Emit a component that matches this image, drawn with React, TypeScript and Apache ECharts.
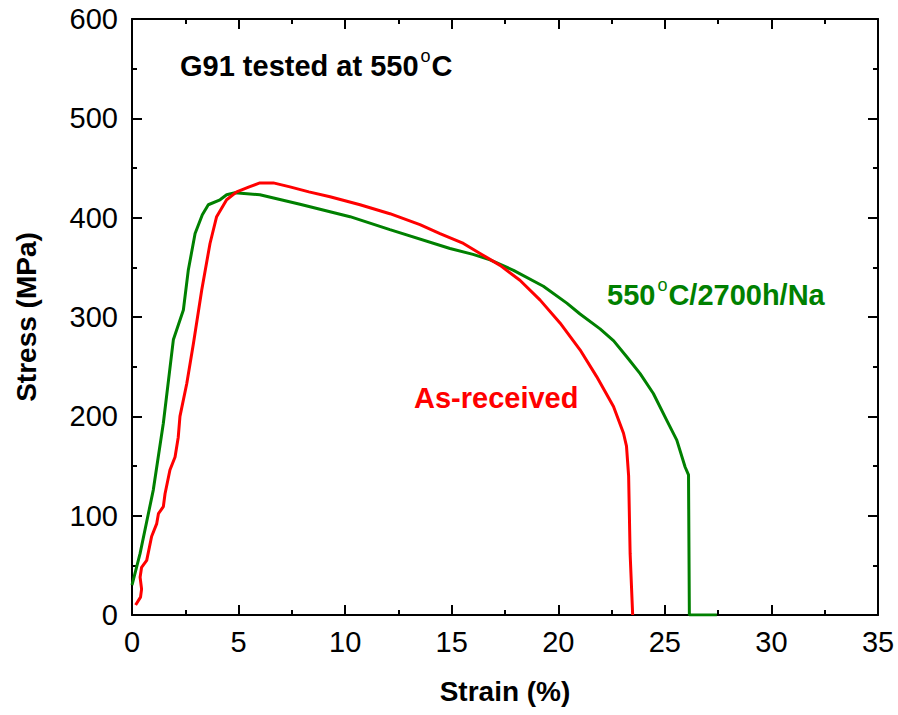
import React, { useEffect, useRef } from 'react';
import * as echarts from 'echarts';

const asReceivedStrain = [0.17, 0.4, 0.45, 0.38, 0.45, 0.69, 0.92, 1.16, 1.24, 1.47, 1.55, 1.78, 2.02, 2.17, 2.25, 2.57, 2.88, 3.27, 3.66, 3.97, 4.44, 4.91, 5.5, 6.0, 6.63, 7.41, 8.3, 9.29, 10.7, 12.1, 13.51, 14.45, 15.55, 16.33, 17.27, 18.2, 19.15, 20.08, 21.02, 21.8, 22.59, 23.06, 23.2, 23.3, 23.37, 23.49];
const asReceivedStress = [10, 18, 26, 38, 48, 55, 79, 92, 102, 109, 122, 146, 159, 179, 200, 233, 273, 327, 374, 401, 418, 426, 431, 435, 435, 431, 426, 421, 413, 404, 393, 384, 374, 364, 352, 337, 317, 294, 267, 240, 210, 183, 170, 140, 62, 0];

const agedStrain = [0, 0.38, 1.0, 1.47, 1.94, 2.41, 2.64, 2.96, 3.3, 3.58, 4.13, 4.44, 4.83, 6.0, 7.88, 9.29, 10.23, 12.1, 14.92, 16.0, 16.8, 17.9, 19.3, 20.4, 21.02, 21.96, 22.6, 23.21, 23.84, 24.46, 25.09, 25.56, 25.95, 26.11, 26.15, 27.44];
const agedStress = [30, 62, 126, 193, 277, 307, 347, 384, 403, 413, 418, 423, 425, 423, 413.5, 406, 401, 388, 369, 363, 357.5, 347, 331, 314, 303, 288, 276, 260, 243, 223, 196, 176, 149, 141, 0, 0];

const xMin = 0, xMax = 35, xStep = 5;
const yMin = 0, yMax = 600, yStep = 100;

const FONT = 'Arial, "Liberation Sans", sans-serif';
const MAIN_SIZE = 29;
const SUP_SIZE = 18;

function pairs(xs: number[], ys: number[]) {
  return xs.map((x, i) => [x, ys[i]]);
}

function measure(text: string, font: string): number {
  const c = document.createElement('canvas');
  const ctx = c.getContext('2d');
  if (!ctx) return text.length * 16;
  ctx.font = font;
  return ctx.measureText(text).width;
}

// Build "before" + superscript o + "after" as three text pieces
function supLabel(x: number, y: number, before: string, after: string, fill: string) {
  const bFont = `bold ${MAIN_SIZE}px ${FONT}`;
  const sFont = `${SUP_SIZE}px ${FONT}`;
  const w1 = measure(before, bFont);
  const wo = measure('o', sFont);
  const ox = x + w1 + 2;
  const cx = ox + wo + 1;
  const capTop = y - MAIN_SIZE * 0.36;
  return [
    { type: 'text', x, y, style: { text: before, fill, fontSize: MAIN_SIZE, fontWeight: 'bold', fontFamily: FONT, verticalAlign: 'middle' } },
    { type: 'text', x: ox, y: capTop, style: { text: 'o', fill, fontSize: SUP_SIZE, fontWeight: 'normal', fontFamily: FONT, verticalAlign: 'middle' } },
    { type: 'text', x: cx, y, style: { text: after, fill, fontSize: MAIN_SIZE, fontWeight: 'bold', fontFamily: FONT, verticalAlign: 'middle' } },
  ];
}

export default function App() {
  const ref = useRef<HTMLDivElement>(null);
  useEffect(() => {
    if (!ref.current) return;
    const chart = echarts.init(ref.current, null, { renderer: 'svg' });
    const axisCommon = {
      axisLine: { show: true, onZero: false, lineStyle: { color: '#000', width: 2 } },
      axisTick: { show: true, inside: true, length: 10, lineStyle: { color: '#000', width: 2 } },
      minorTick: { show: true, splitNumber: 2, length: 5, lineStyle: { color: '#000', width: 2 } },
      splitLine: { show: false },
    };
    const labelStyle = { color: '#000', fontSize: 29, fontFamily: FONT };
    const nameStyle = { color: '#000', fontSize: 28, fontWeight: 'bold', fontFamily: FONT };
    chart.setOption({
      animation: false,
      backgroundColor: '#fff',
      grid: { left: 132, top: 19, right: 20, bottom: 100, containLabel: false },
      xAxis: [
        {
          type: 'value', min: xMin, max: xMax, interval: xStep, position: 'bottom',
          ...axisCommon,
          axisLabel: { ...labelStyle, margin: 12 },
          name: 'Strain (%)', nameLocation: 'middle', nameGap: 62, nameTextStyle: nameStyle,
        },
        {
          type: 'value', min: xMin, max: xMax, interval: xStep, position: 'top',
          ...axisCommon, axisLabel: { show: false },
        },
      ],
      yAxis: [
        {
          type: 'value', min: yMin, max: yMax, interval: yStep, position: 'left',
          ...axisCommon,
          axisLabel: { ...labelStyle, margin: 14 },
          name: 'Stress (MPa)', nameLocation: 'middle', nameGap: 92, nameTextStyle: nameStyle,
        },
        {
          type: 'value', min: yMin, max: yMax, interval: yStep, position: 'right',
          ...axisCommon, axisLabel: { show: false },
        },
      ],
      series: [
        {
          name: 'As-received', type: 'line', showSymbol: false, data: pairs(asReceivedStrain, asReceivedStress),
          lineStyle: { color: '#ff0000', width: 3 }, itemStyle: { color: '#ff0000' }, z: 3,
        },
        {
          name: '550°C/2700h/Na', type: 'line', showSymbol: false, data: pairs(agedStrain, agedStress),
          lineStyle: { color: '#008000', width: 3 }, itemStyle: { color: '#008000' }, z: 2,
        },
      ],
      graphic: [
        ...supLabel(180, 66, 'G91 tested at 550', 'C', '#000'),
        ...supLabel(607, 295, '550', 'C/2700h/Na', '#008000'),
        {
          type: 'text', x: 414, y: 398,
          style: {
            text: 'As-received', verticalAlign: 'middle',
            fontSize: MAIN_SIZE, fontWeight: 'bold', fontFamily: FONT, fill: '#ff0000',
          },
        },
      ],
    });
    return () => chart.dispose();
  }, []);
  return <div ref={ref} style={{ position: 'fixed', left: 0, top: 0, width: 898, height: 715 }} />;
}
